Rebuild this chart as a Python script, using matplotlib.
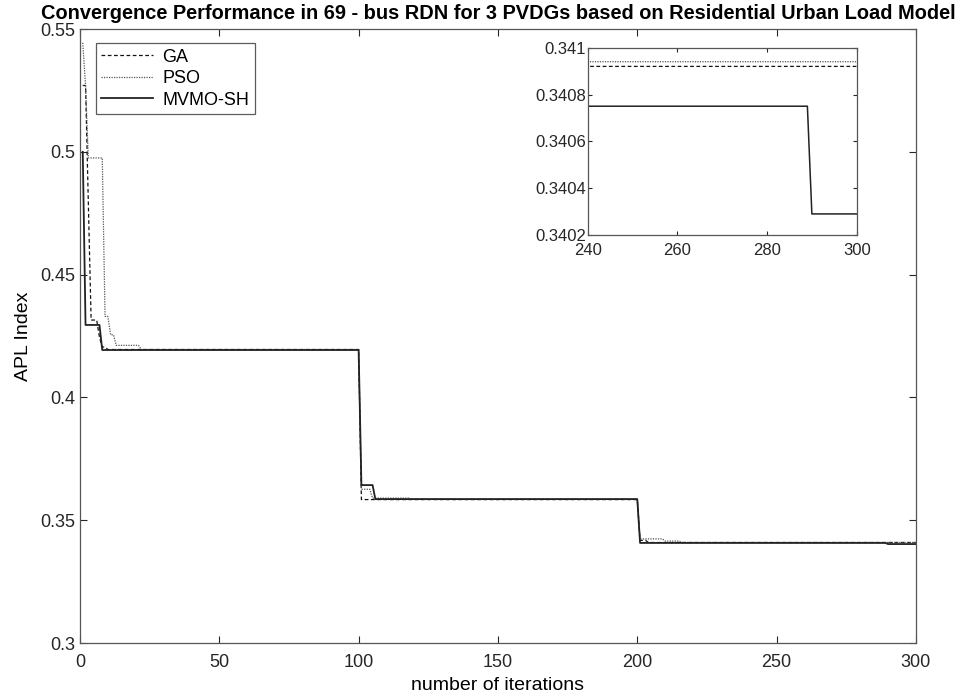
import matplotlib.pyplot as plt
import numpy as np
from matplotlib.ticker import FormatStrFormatter

n_iter = 300

# step breakpoints: (first iteration of the level, level value)
ga_start = [1, 3, 4, 7, 8, 10, 101, 201, 204]
ga_vals = [0.527, 0.480, 0.4315, 0.4245, 0.4205, 0.4195, 0.3584, 0.3418, 0.34092]

pso_start = [1, 2, 3, 9, 11, 13, 22, 101, 105, 119, 201, 210, 216]
pso_vals = [0.5444, 0.527, 0.4975, 0.433, 0.4255, 0.4212, 0.4195,
            0.3626, 0.3590, 0.3586, 0.3424, 0.3415, 0.34094]

mvmo_start = [1, 2, 8, 101, 106, 201, 290]
mvmo_vals = [0.500, 0.4295, 0.4193, 0.3643, 0.3586, 0.34075, 0.34029]


def steps(starts, vals):
    counts = np.diff(np.array(starts + [n_iter + 1]))
    return np.repeat(vals, counts)


it = np.arange(1, n_iter + 1)
ga = steps(ga_start, ga_vals)
pso = steps(pso_start, pso_vals)
mvmo = steps(mvmo_start, mvmo_vals)

plt.rcParams['font.family'] = ['Liberation Sans', 'DejaVu Sans']

fig = plt.figure(figsize=(9.6, 6.99), dpi=100)
ax = fig.add_axes([0.0833, 0.0801, 0.8708, 0.8784])


def draw(a, lw_main=1.3):
    a.plot(it, ga, color='#111111', lw=0.9, dashes=(3, 2), label='GA')
    a.plot(it, pso, color='#555555', lw=0.9, dashes=(1, 1), label='PSO')
    a.plot(it, mvmo, color='#222222', lw=lw_main, label='MVMO-SH')


def style(a, size):
    a.tick_params(direction='in', top=True, right=True, labelsize=size,
                  colors='#262626', length=5, width=0.8)
    for s in a.spines.values():
        s.set_color('#555555')
        s.set_linewidth(0.9)
    a.yaxis.set_major_formatter(FormatStrFormatter('%g'))


draw(ax)
ax.set_xlim(0, 300)
ax.set_ylim(0.3, 0.55)
ax.set_xticks(np.arange(0, 301, 50))
ax.set_yticks(np.arange(0.3, 0.551, 0.05))
style(ax, 13)
ax.tick_params(axis='x', pad=8)
ax.set_xlabel('number of iterations', fontsize=14, labelpad=4)
ax.set_ylabel('APL Index', fontsize=14, labelpad=6)
ax.set_title('Convergence Performance in 69 - bus RDN for 3 PVDGs based on Residential Urban Load Model',
             fontsize=14.4, fontweight='bold', pad=7)
leg = ax.legend(loc='upper left', bbox_to_anchor=(0.0188, 0.9767), fontsize=13,
                fancybox=False, edgecolor='#333333', handlelength=2.9,
                handletextpad=0.5, borderaxespad=0, labelspacing=0.25,
                borderpad=0.3)
leg.get_frame().set_linewidth(0.9)

ins = fig.add_axes([0.6122, 0.6638, 0.2802, 0.268])
draw(ins, lw_main=1.1)
ins.set_xlim(240, 300)
ins.set_ylim(0.3402, 0.341)
ins.set_xticks([240, 260, 280, 300])
ins.set_yticks([0.3402, 0.3404, 0.3406, 0.3408, 0.341])
style(ins, 12)
ins.tick_params(length=3, pad=1)
ins.tick_params(axis='x', pad=6)

fig.savefig('out.png', dpi=100)
